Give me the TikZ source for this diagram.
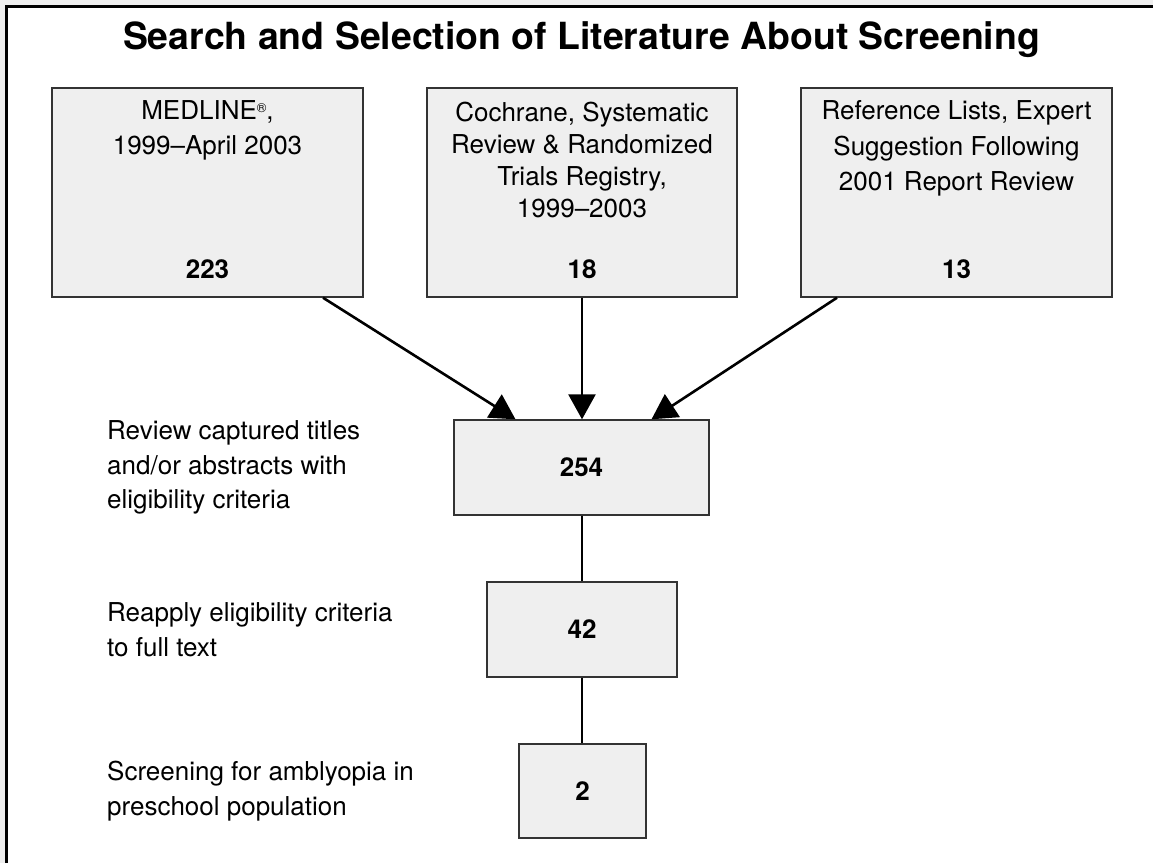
\documentclass[tikz,border=0pt]{standalone}
\usepackage{fontspec}
\setmainfont{TeX Gyre Heros}
\usetikzlibrary{arrows.meta}
\usetikzlibrary{positioning}

\definecolor{boxgray}{HTML}{EFEFEF}
\definecolor{pagegray}{HTML}{EEEEEE}
\definecolor{edgegray}{HTML}{333333}

\tikzset{
  flowbox/.style={draw=edgegray, line width=1.4pt, fill=boxgray, inner sep=0pt},
  srcbox/.style={flowbox, minimum width=311pt, minimum height=209pt},
  stagebox/.style={flowbox, font=\fontsize{26}{30}\selectfont\bfseries},
  srctext/.style={anchor=north, align=center, inner sep=0pt, font=\fontsize{26}{35.5}\selectfont},
  counttext/.style={inner sep=0pt, font=\fontsize{26}{30}\selectfont\bfseries},
  steptext/.style={anchor=west, align=left, inner sep=0pt, font=\fontsize{26}{34.5}\selectfont},
  feed/.style={line width=2.6pt, -{Triangle[length=25pt,width=27pt]}},
  link/.style={line width=2.6pt},
}

\begin{document}
\begin{tikzpicture}[x=1pt,y=-1pt]
\useasboundingbox (0,0) rectangle (1153,863);
% page frame
\fill[pagegray] (0,0) rectangle (1153,863);
\fill[white] (7,6) rectangle (1153,863);
\draw[line width=3pt] (6.8,863) -- (6.8,6) -- (1153,6);

\node[inner sep=0pt, font=\fontsize{37.4}{40}\selectfont\bfseries] (title) at (581.5,40)
  {Search and Selection of Literature About Screening};

% sources
\node[srcbox] (medline) at (207.5,192.5) {};
\node[srctext] (medlinetxt) at ([yshift=-13pt]medline.north)
  {MEDLINE{\raisebox{7pt}{\fontsize{13}{13}\selectfont\textregistered}},\\1999--April 2003};
\node[counttext] (medlinenum) at ([yshift=29pt]medline.south) {223};

\node[srcbox, minimum width=310pt] (cochrane) at (582,192.5) {};
\node[srctext, font=\fontsize{26}{32}\selectfont] (cochranetxt) at ([yshift=-15pt]cochrane.north)
  {Cochrane, Systematic\\Review \& Randomized\\Trials Registry,\\1999--2003};
\node[counttext] (cochranenum) at ([yshift=29pt]cochrane.south) {18};

\node[srcbox] (reflists) at (956.5,192.5) {};
\node[srctext] (reflisttxt) at ([yshift=-13pt]reflists.north)
  {Reference Lists, Expert\\Suggestion Following\\2001 Report Review};
\node[counttext] (reflistnum) at ([yshift=29pt]reflists.south) {13};

% selection stages
\node[stagebox, minimum width=255pt, minimum height=95pt] (captured) at (581.5,467.5) {254};
\node[stagebox, minimum width=190pt, minimum height=95pt] (fulltext) at (582,629.5) {42};
\node[stagebox, minimum width=127pt, minimum height=94pt] (included) at (582.5,791) {2};

\node[steptext] (capturedlbl) at (107,0 |- captured)
  {Review captured titles\\and/or abstracts with\\eligibility criteria};
\node[steptext] (fulltextlbl) at (107,0 |- fulltext)
  {Reapply eligibility criteria\\to full text};
\node[steptext] (includedlbl) at (107,0 |- included)
  {Screening for amblyopia in\\preschool population};

% connectors
\draw[feed] ([xshift=115.5pt]medline.south) -- ([xshift=-66pt]captured.north);
\draw[feed] (cochrane.south) -- (captured.north -| cochrane.south);
\draw[feed] ([xshift=-119.5pt]reflists.south) -- ([xshift=70pt]captured.north);
\draw[link] (captured.south -| fulltext.north) -- (fulltext.north);
\draw[link] (fulltext.south) -- (included.north -| fulltext.south);
\end{tikzpicture}
\end{document}
